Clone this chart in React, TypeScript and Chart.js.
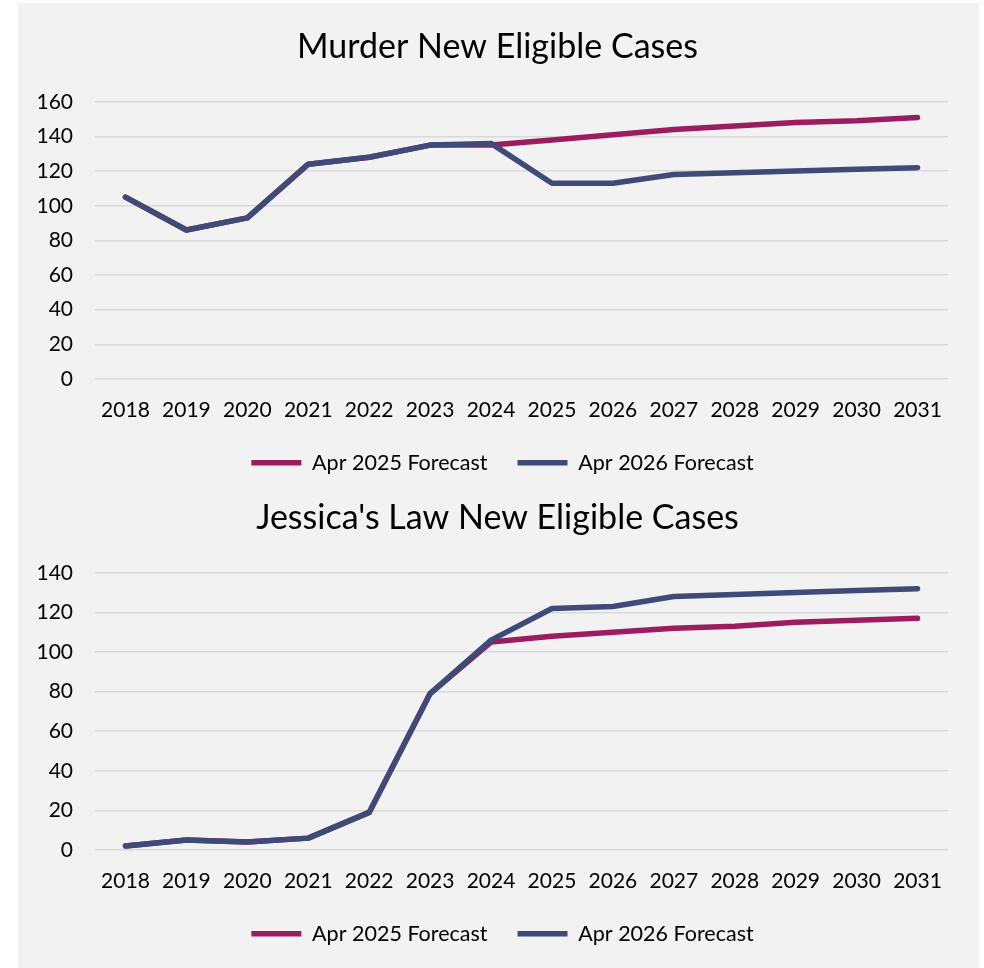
import React, { useEffect, useRef } from "react";
import { Chart, registerables } from "chart.js";

Chart.register(...registerables);

const years = ["2018", "2019", "2020", "2021", "2022", "2023", "2024", "2025", "2026", "2027", "2028", "2029", "2030", "2031"];
const seriesNames = ["Apr 2025 Forecast", "Apr 2026 Forecast"];

const murderTitle = "Murder New Eligible Cases";
const murderApr2025 = [105, 86, 93, 124, 128, 135, 135, 138, 141, 144, 146, 148, 149, 151];
const murderApr2026 = [105, 86, 93, 124, 128, 135, 136, 113, 113, 118, 119, 120, 121, 122];
const murderMax = 160;

const jessicaTitle = "Jessica's Law New Eligible Cases";
const jessicaApr2025 = [2, 5, 4, 6, 19, 79, 105, 108, 110, 112, 113, 115, 116, 117];
const jessicaApr2026 = [2, 5, 4, 6, 19, 79, 106, 122, 123, 128, 129, 130, 131, 132];
const jessicaMax = 140;

const PURPLE = "#9C1D5F";
const NAVY = "#3E4A77";
const FONT = "Lato, 'Open Sans', sans-serif";

const shiftPlugin = {
  id: "shiftBoxes",
  afterLayout(chart: any) {
    if (chart.legend) chart.legend.left += 22;
    if (chart.titleBlock) chart.titleBlock.left += 12;
  },
};

function LineChart({ title, a, b, max }: { title: string; a: number[]; b: number[]; max: number }) {
  const ref = useRef<HTMLCanvasElement | null>(null);
  useEffect(() => {
    if (!ref.current) return;
    const chart = new Chart(ref.current, {
      type: "line",
      data: {
        labels: years,
        datasets: [
          {
            label: seriesNames[0],
            data: a,
            borderColor: PURPLE,
            backgroundColor: PURPLE,
            borderWidth: 5.5,
            borderCapStyle: "round",
            borderJoinStyle: "round",
            pointRadius: 0,
            pointHoverRadius: 0,
            pointStyle: "line",
            tension: 0,
            order: 1,
          },
          {
            label: seriesNames[1],
            data: b,
            borderColor: NAVY,
            backgroundColor: NAVY,
            borderWidth: 5.5,
            borderCapStyle: "round",
            borderJoinStyle: "round",
            pointRadius: 0,
            pointHoverRadius: 0,
            pointStyle: "line",
            tension: 0,
            order: 0,
          },
        ],
      },
      plugins: [shiftPlugin],
      options: {
        responsive: false,
        animation: false,
        layout: { padding: { left: 17, right: 31, top: 0, bottom: 3.5 } },
        plugins: {
          title: {
            display: true,
            text: title,
            color: "#000",
            font: { family: FONT, size: 34, weight: "normal" },
            padding: { top: 24, bottom: 34 },
          },
          legend: {
            position: "bottom",
            labels: {
              color: "#000",
              font: { family: FONT, size: 21.5 },
              usePointStyle: true,
              pointStyleWidth: 50,
              padding: 30,
              sort: (x: any, y: any) => x.datasetIndex - y.datasetIndex,
            },
          },
          tooltip: { enabled: false },
        },
        scales: {
          x: {
            offset: true,
            afterFit: (s: any) => {
              s.height = 43;
            },
            grid: { display: false, drawTicks: false },
            border: { display: false },
            ticks: { color: "#000", font: { family: FONT, size: 21 }, padding: 19, maxRotation: 0, autoSkip: false },
          },
          y: {
            min: 0,
            max: max,
            afterFit: (s: any) => {
              s.width = 60;
            },
            grid: { color: "#D9D9D9", lineWidth: 1.5, drawTicks: false },
            border: { display: false },
            ticks: { stepSize: 20, color: "#000", font: { family: FONT, size: 21 }, padding: 22 },
          },
        },
      },
    });
    return () => chart.destroy();
  }, [title, a, b, max]);
  return <canvas ref={ref} width={961} height={484} style={{ display: "block", width: 961, height: 484 }} />;
}

export default function App() {
  return (
    <div style={{ position: "absolute", left: 0, top: 0, width: 984, height: 968, background: "#fff", overflow: "hidden" }}>
      <div style={{ position: "absolute", left: 18, top: 3, width: 961, height: 965, background: "#F2F2F2" }} />
      <div style={{ position: "absolute", left: 18, top: 3 }}>
        <LineChart title={murderTitle} a={murderApr2025} b={murderApr2026} max={murderMax} />
      </div>
      <div style={{ position: "absolute", left: 18, top: 474 }}>
        <LineChart title={jessicaTitle} a={jessicaApr2025} b={jessicaApr2026} max={jessicaMax} />
      </div>
    </div>
  );
}
